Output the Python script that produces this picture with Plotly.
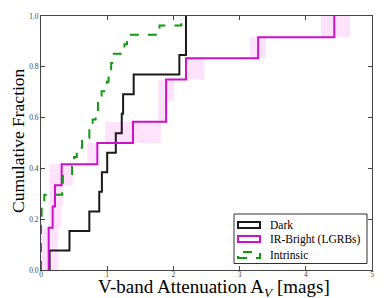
import numpy as np
import plotly.graph_objects as go

# ---- data (A_V values, mags) ----
dark_av = [0.13, 0.43, 0.73, 0.88, 0.92, 1.00, 1.13, 1.22, 1.24, 1.40, 2.09, 2.19, 2.19]
irbright_av = [0.116, 0.116, 0.176, 0.211, 0.312, 0.851, 1.39, 1.89, 1.89, 2.19, 3.28, 4.43]
irbright_lo = [0.01, 0.01, 0.12, 0.13, 0.13, 0.70, 0.97, 1.77, 1.77, 2.19, 3.16, 4.23]
irbright_hi = [0.26, 0.26, 0.30, 0.33, 0.48, 0.85, 1.81, 1.89, 2.01, 2.47, 3.40, 4.67]
intrinsic_av = [0.0, 0.0, 0.0, 0.0, 0.0, 0.01, 0.01, 0.05, 0.32, 0.33, 0.47, 0.50,
                0.54, 0.62, 0.73, 0.78, 0.825, 0.86, 0.915, 0.995, 1.02, 1.06, 1.10,
                1.26, 1.30, 1.79, 2.12]

names = ["Dark", "IR-Bright (LGRBs)", "Intrinsic"]
colors = ["#1a1a1a", "#cc11cc", "#119911"]
dashes = ["solid", "solid", "dash"]
x_ticks = [0, 1, 2, 3, 4, 5]
y_ticks = [0.0, 0.2, 0.4, 0.6, 0.8, 1.0]

FONT = "Liberation Serif"
OFF = 8  # default page body margin of the written html
W, H = 390 - OFF, 298 - OFF
ML, MT = 41 - OFF, 16 - OFF
MR, MB = 18, 28
PW, PH = W - ML - MR, H - MT - MB


def cdf(vals):
    v = np.sort(np.asarray(vals, dtype=float))
    n = len(v)
    xs = np.concatenate([[v[0]], v])
    ys = np.concatenate([[0.0], np.arange(1, n + 1) / n])
    return xs, ys


def px2paper(px, py):
    """page pixel -> paper coords"""
    return (px - OFF - ML) / PW, (H - MB - (py - OFF)) / PH


fig = go.Figure()

# shaded uncertainty boxes for IR-bright sample
n_ir = len(irbright_av)
for i, (lo, hi) in enumerate(zip(irbright_lo, irbright_hi)):
    fig.add_shape(type="rect", xref="x", yref="y", x0=lo, x1=hi,
                  y0=i / n_ir, y1=(i + 1) / n_ir, fillcolor="#ffe2fb",
                  line_width=0, layer="below")

for vals, name, col, dsh in zip([dark_av, irbright_av, intrinsic_av], names, colors, dashes):
    xs, ys = cdf(vals)
    fig.add_trace(go.Scatter(x=xs, y=ys, mode="lines", line_shape="hv", name=name,
                             line=dict(color=col, width=2, dash=dsh),
                             showlegend=False, hoverinfo="skip"))

# legend drawn as box with rectangular patches (matplotlib style)
bx0, by0 = px2paper(234, 263.5)
bx1, by1 = px2paper(367, 214)
fig.add_shape(type="rect", xref="paper", yref="paper", x0=bx0, x1=bx1, y0=by0, y1=by1,
              fillcolor="white", line=dict(color="#333", width=1), layer="above")
row_y = [225, 239, 255]
for name, col, dsh, ry in zip(names, colors, dashes, row_y):
    px0, py0 = px2paper(238, ry + 3)
    px1, py1 = px2paper(260, ry - 3)
    fig.add_shape(type="rect", xref="paper", yref="paper", x0=px0, x1=px1, y0=py0, y1=py1,
                  fillcolor="white", line=dict(color=col, width=2, dash=dsh), layer="above")
    tx, ty = px2paper(268, ry)
    fig.add_annotation(x=tx, y=ty, xref="paper", yref="paper", text=name, showarrow=False,
                       xanchor="left", yanchor="middle",
                       font=dict(family=FONT, size=11.5, color="black"))

# axis titles
tx, ty = px2paper(214, 288)
fig.add_annotation(x=tx, y=ty, xref="paper", yref="paper", showarrow=False,
                   text="V-band Attenuation A<sub><i>V</i></sub> [mags]",
                   xanchor="center", yanchor="middle",
                   font=dict(family=FONT, size=19, color="black"))
tx, ty = px2paper(18, 141)
fig.add_annotation(x=tx, y=ty, xref="paper", yref="paper", showarrow=False,
                   text="Cumulative Fraction", textangle=-90,
                   xanchor="center", yanchor="middle",
                   font=dict(family=FONT, size=17.5, color="black"))

axis_common = dict(showgrid=False, zeroline=False, showline=True, linecolor="#444",
                   linewidth=1, mirror="allticks", ticks="inside", ticklen=4,
                   tickcolor="#444", automargin=False,
                   tickfont=dict(family=FONT, size=7.5, color="#444"))

fig.update_xaxes(range=[0, 5], tickvals=x_ticks, ticktext=[str(t) for t in x_ticks],
                 ticklabelstandoff=-3, **axis_common)
fig.update_yaxes(range=[0, 1], tickvals=y_ticks, ticktext=[f"{t:.1f}" for t in y_ticks],
                 **axis_common)

fig.update_layout(
    width=W, height=H,
    margin=dict(l=ML, r=MR, t=MT, b=MB, pad=0),
    paper_bgcolor="white", plot_bgcolor="white",
    showlegend=False,
)

fig.write_html("out.html")
